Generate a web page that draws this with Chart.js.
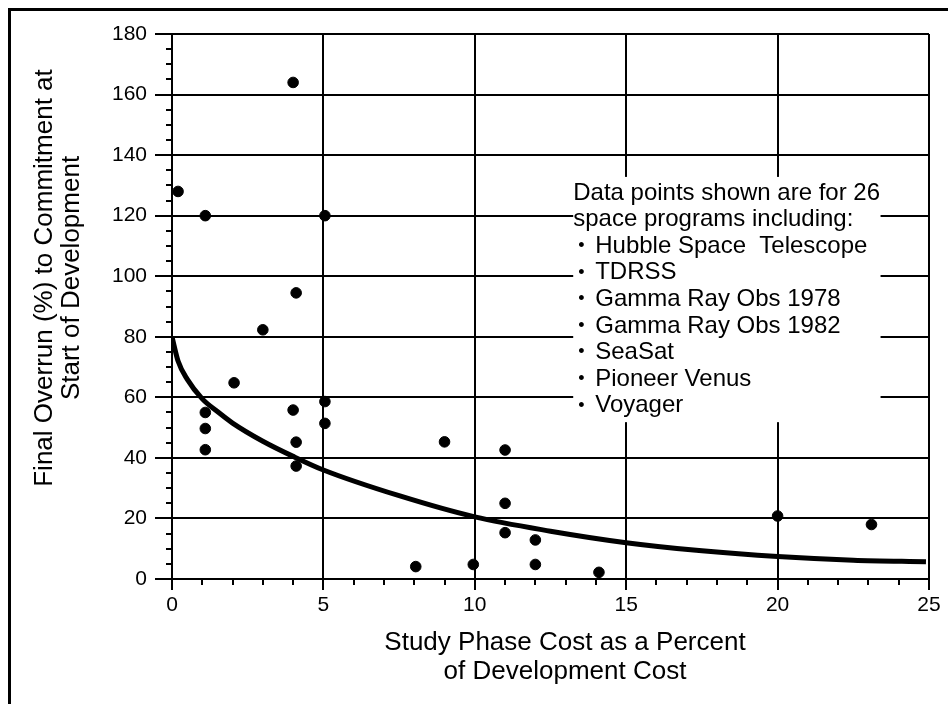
<!DOCTYPE html>
<html>
<head>
<meta charset="utf-8">
<title>Study Phase Cost vs Final Overrun</title>
<script src="https://cdn.jsdelivr.net/npm/chart.js@4.4.1/dist/chart.umd.min.js"></script>
<style>
  body { margin: 0; background: #fff; }
  #wrap { width: 948px; height: 704px; }
</style>
</head>
<body>
<div id="wrap"><canvas id="myChart" width="948" height="704"></canvas></div>
<script>
// data (26 programs)
const studyCost = [0.2, 1.1, 4.0, 5.05, 4.1, 3.0, 2.05, 1.1, 1.1, 1.1, 4.0, 4.1, 4.1,
  5.05, 5.05, 9.0, 8.05, 9.95, 11.0, 11.0, 11.0, 12.0, 12.0, 14.1, 20.0, 23.1];
const overrun = [128, 120, 164, 120, 94.5, 82.3, 64.8, 55, 49.7, 42.7, 55.8, 45.2, 37.3,
  58.6, 51.4, 45.3, 4.1, 4.8, 42.6, 25, 15.3, 12.9, 4.8, 2.2, 20.8, 18];

// trend curve
const trendX = [0, 0.2, 0.5, 1, 1.5, 2, 3, 4, 5, 7.5, 10, 12.5, 15, 17.5, 20, 22.5, 24.9];
const trendY = [80, 72, 66, 59.5, 55.3, 51.5, 45.5, 40.5, 36, 27.5, 20.5, 15.8, 12, 9.3, 7.4, 6.2, 5.7];

const yTitle = ['Final Overrun (%) to Commitment at', 'Start of Development'];
const xTitle = ['Study Phase Cost as a Percent', 'of Development Cost'];
const noteLines = ['Data points shown are for 26', 'space programs including:'];
const programs = ['Hubble Space  Telescope', 'TDRSS', 'Gamma Ray Obs 1978',
  'Gamma Ray Obs 1982', 'SeaSat', 'Pioneer Venus', 'Voyager'];

const FONT = '"Liberation Sans", Arial, Helvetica, sans-serif';

// minor ticks, note box, titles and the outer frame
const extras = {
  id: 'extras',
  beforeDatasetsDraw(chart) {
    const { ctx, scales: { x, y } } = chart;
    ctx.save();
    ctx.strokeStyle = '#000';
    ctx.lineWidth = 2;
    // minor ticks on y (every 5)
    for (let v = 5; v < 180; v += 5) {
      if (v % 20 === 0) continue;
      const py = Math.round(y.getPixelForValue(v));
      ctx.beginPath();
      ctx.moveTo(x.left - 6, py);
      ctx.lineTo(x.left, py);
      ctx.stroke();
    }
    // minor ticks on x (every 1)
    for (let v = 1; v < 25; v++) {
      if (v % 5 === 0) continue;
      const px = Math.round(x.getPixelForValue(v));
      ctx.beginPath();
      ctx.moveTo(px, y.bottom);
      ctx.lineTo(px, y.bottom + 6);
      ctx.stroke();
    }

    // white note box over the grid
    const bx = x.getPixelForValue(13.25);
    const bx2 = x.getPixelForValue(23.4);
    const by = y.getPixelForValue(132.8);
    const by2 = y.getPixelForValue(51.8);
    ctx.fillStyle = '#fff';
    ctx.fillRect(bx, by, bx2 - bx, by2 - by);

    ctx.fillStyle = '#000';
    ctx.font = '24px ' + FONT;
    ctx.textBaseline = 'middle';
    ctx.textAlign = 'left';
    let ly = by + 16;
    noteLines.forEach((t) => {
      ctx.fillText(t, bx, ly);
      ly += 26.6;
    });
    programs.forEach((t) => {
      ctx.font = '18px ' + FONT;
      ctx.fillText('\u2022', bx + 5, ly);
      ctx.font = '24px ' + FONT;
      ctx.fillText(t, bx + 22, ly);
      ly += 26.6;
    });

    // axis titles
    ctx.font = '26px ' + FONT;
    ctx.textAlign = 'center';
    ctx.save();
    ctx.translate(45, 278);
    ctx.rotate(-Math.PI / 2);
    ctx.fillText(yTitle[0], 0, 0);
    ctx.fillText(yTitle[1], 0, 27);
    ctx.restore();
    ctx.fillText(xTitle[0], 565, 643);
    ctx.fillText(xTitle[1], 565, 672);

    // outer frame (only top and left show)
    ctx.lineWidth = 3;
    ctx.beginPath();
    ctx.moveTo(9.5, 704);
    ctx.lineTo(9.5, 9.5);
    ctx.lineTo(948, 9.5);
    ctx.stroke();
    ctx.restore();
  },
};

new Chart('myChart', {
  type: 'scatter',
  data: {
    datasets: [
      {
        data: studyCost.map((v, i) => ({ x: v, y: overrun[i] })),
        backgroundColor: '#000',
        borderColor: '#000',
        pointRadius: 5.3,
        pointHoverRadius: 5.3,
      },
      {
        data: trendX.map((v, i) => ({ x: v, y: trendY[i] })),
        showLine: true,
        borderColor: '#000',
        borderWidth: 5,
        pointRadius: 0,
        cubicInterpolationMode: 'monotone',
        fill: false,
      },
    ],
  },
  options: {
    responsive: false,
    animation: false,
    events: [],
    layout: { padding: { top: 34, right: 19, left: 0, bottom: 0 } },
    plugins: { legend: { display: false }, tooltip: { enabled: false } },
    scales: {
      x: {
        min: 0,
        max: 25,
        ticks: { stepSize: 5, color: '#000', padding: 3, font: { size: 21, family: FONT } },
        grid: { color: '#000', lineWidth: 2, tickLength: 11, tickWidth: 2, tickColor: '#000' },
        border: { color: '#000', width: 2 },
        afterFit: (s) => { s.height = 125; },
      },
      y: {
        min: 0,
        max: 180,
        ticks: { stepSize: 20, color: '#000', padding: 8, font: { size: 21, family: FONT } },
        grid: { color: '#000', lineWidth: 2, tickLength: 17, tickWidth: 2, tickColor: '#000' },
        border: { color: '#000', width: 2 },
        afterFit: (s) => { s.width = 172; },
      },
    },
  },
  plugins: [extras],
});
</script>
</body>
</html>
